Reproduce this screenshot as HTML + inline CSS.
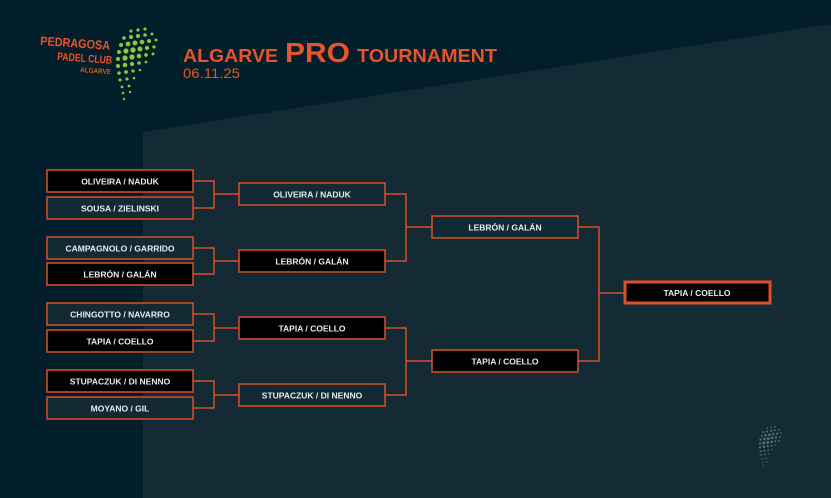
<!DOCTYPE html>
<html><head><meta charset="utf-8"><style>
html,body{margin:0;padding:0;}
body{width:831px;height:498px;overflow:hidden;background:#011e2a;font-family:"Liberation Sans",sans-serif;}
svg{display:block}
</style></head><body>
<svg width="831" height="498" viewBox="0 0 831 498" xmlns="http://www.w3.org/2000/svg">
<rect width="831" height="498" fill="#011e2a"/>
<polygon points="143,132 831,24 831,498 143,498" fill="#142b36"/>

<!-- logo text -->
<g font-family="Liberation Sans, sans-serif" font-weight="bold" fill="#e4552b">
<text x="40" y="45" font-size="12.5" textLength="70" lengthAdjust="spacingAndGlyphs" transform="rotate(4 40 45)">PEDRAGOSA</text>
<text x="57" y="60" font-size="11" textLength="55" lengthAdjust="spacingAndGlyphs" transform="rotate(4 57 60)">PADEL CLUB</text>
<text x="80" y="72" font-size="7" textLength="31" lengthAdjust="spacingAndGlyphs" transform="rotate(4 80 72)">ALGARVE</text>
</g>
<g fill="#8cc63f">
<circle cx="131" cy="31" r="1.6"/><circle cx="138" cy="30" r="1.6"/><circle cx="145" cy="29" r="1.6"/>
<circle cx="124" cy="38" r="1.8"/><circle cx="131" cy="37" r="2"/><circle cx="138" cy="36" r="2"/><circle cx="145" cy="35" r="1.8"/><circle cx="152" cy="34" r="1.5"/>
<circle cx="121" cy="45" r="2"/><circle cx="128" cy="44" r="2.4"/><circle cx="135" cy="43" r="2.5"/><circle cx="142" cy="42" r="2.3"/><circle cx="149" cy="41" r="2"/><circle cx="156" cy="40" r="1.5"/>
<circle cx="119" cy="52" r="2"/><circle cx="126" cy="51" r="2.6"/><circle cx="133" cy="50" r="2.7"/><circle cx="140" cy="49" r="2.5"/><circle cx="147" cy="48" r="2.1"/><circle cx="154" cy="47" r="1.6"/>
<circle cx="118" cy="59" r="2"/><circle cx="125" cy="58" r="2.6"/><circle cx="132" cy="57" r="2.6"/><circle cx="139" cy="56" r="2.3"/><circle cx="146" cy="55" r="1.9"/><circle cx="153" cy="54" r="1.5"/>
<circle cx="118" cy="66" r="2"/><circle cx="125" cy="65" r="2.3"/><circle cx="132" cy="64" r="2.1"/><circle cx="139" cy="63" r="1.8"/><circle cx="146" cy="62" r="1.4"/>
<circle cx="119" cy="73" r="1.8"/><circle cx="126" cy="72" r="1.9"/><circle cx="133" cy="71" r="1.6"/><circle cx="140" cy="70" r="1.3"/>
<circle cx="120" cy="80" r="1.6"/><circle cx="127" cy="79" r="1.6"/><circle cx="134" cy="78" r="1.3"/>
<circle cx="122" cy="87" r="1.4"/><circle cx="129" cy="86" r="1.4"/>
<circle cx="123" cy="93" r="1.3"/><circle cx="130" cy="92" r="1.2"/>
<circle cx="124" cy="99" r="1.2"/>
</g>
<!-- watermark -->
<g fill="#6f8690" opacity="0.7" transform="translate(760 427) scale(0.55) translate(-118 -29)">
<circle cx="131" cy="31" r="1.6"/><circle cx="138" cy="30" r="1.6"/><circle cx="145" cy="29" r="1.6"/>
<circle cx="124" cy="38" r="1.8"/><circle cx="131" cy="37" r="2"/><circle cx="138" cy="36" r="2"/><circle cx="145" cy="35" r="1.8"/><circle cx="152" cy="34" r="1.5"/>
<circle cx="121" cy="45" r="2"/><circle cx="128" cy="44" r="2.4"/><circle cx="135" cy="43" r="2.5"/><circle cx="142" cy="42" r="2.3"/><circle cx="149" cy="41" r="2"/><circle cx="156" cy="40" r="1.5"/>
<circle cx="119" cy="52" r="2"/><circle cx="126" cy="51" r="2.6"/><circle cx="133" cy="50" r="2.7"/><circle cx="140" cy="49" r="2.5"/><circle cx="147" cy="48" r="2.1"/><circle cx="154" cy="47" r="1.6"/>
<circle cx="118" cy="59" r="2"/><circle cx="125" cy="58" r="2.6"/><circle cx="132" cy="57" r="2.6"/><circle cx="139" cy="56" r="2.3"/><circle cx="146" cy="55" r="1.9"/><circle cx="153" cy="54" r="1.5"/>
<circle cx="118" cy="66" r="2"/><circle cx="125" cy="65" r="2.3"/><circle cx="132" cy="64" r="2.1"/><circle cx="139" cy="63" r="1.8"/><circle cx="146" cy="62" r="1.4"/>
<circle cx="119" cy="73" r="1.8"/><circle cx="126" cy="72" r="1.9"/><circle cx="133" cy="71" r="1.6"/><circle cx="140" cy="70" r="1.3"/>
<circle cx="120" cy="80" r="1.6"/><circle cx="127" cy="79" r="1.6"/><circle cx="134" cy="78" r="1.3"/>
<circle cx="122" cy="87" r="1.4"/><circle cx="129" cy="86" r="1.4"/>
<circle cx="123" cy="93" r="1.3"/><circle cx="130" cy="92" r="1.2"/>
<circle cx="124" cy="99" r="1.2"/>
</g>

<!-- title -->
<g font-family="Liberation Sans, sans-serif" font-weight="bold" fill="#e4552b">
<text x="183" y="62" font-size="18" textLength="95" lengthAdjust="spacingAndGlyphs">ALGARVE</text>
<text x="285" y="62" font-size="28" textLength="65" lengthAdjust="spacingAndGlyphs">PRO</text>
<text x="357" y="62" font-size="18" textLength="140" lengthAdjust="spacingAndGlyphs">TOURNAMENT</text>
</g>
<text x="183" y="78" font-family="Liberation Sans, sans-serif" fill="#e4552b" font-size="14" textLength="57" lengthAdjust="spacingAndGlyphs">06.11.25</text>

<!-- connectors -->
<g stroke="#d9502a" stroke-width="1.5" fill="none">
<polyline points="193,181 214,181 214,208 193,208"/><line x1="214" y1="194" x2="239" y2="194"/>
<polyline points="193,248 214,248 214,274 193,274"/><line x1="214" y1="261" x2="239" y2="261"/>
<polyline points="193,314 214,314 214,341 193,341"/><line x1="214" y1="328" x2="239" y2="328"/>
<polyline points="193,381 214,381 214,408 193,408"/><line x1="214" y1="395" x2="239" y2="395"/>
<polyline points="385,194 406,194 406,261 385,261"/><line x1="406" y1="227" x2="432" y2="227"/>
<polyline points="385,328 406,328 406,395 385,395"/><line x1="406" y1="361" x2="432" y2="361"/>
<polyline points="578,227 599,227 599,361 578,361"/><line x1="599" y1="293" x2="624" y2="293"/>
</g>

<!-- boxes -->
<g stroke="#d9502a" stroke-width="1.5">
<rect x="47" y="170" width="146" height="22" fill="#000"/>
<rect x="47" y="197" width="146" height="22" fill="#132a35"/>
<rect x="47" y="237" width="146" height="22" fill="#132a35"/>
<rect x="47" y="263" width="146" height="22" fill="#000"/>
<rect x="47" y="303" width="146" height="22" fill="#132a35"/>
<rect x="47" y="330" width="146" height="22" fill="#000"/>
<rect x="47" y="370" width="146" height="22" fill="#000"/>
<rect x="47" y="397" width="146" height="22" fill="#132a35"/>
<rect x="239" y="183" width="146" height="22" fill="#132a35"/>
<rect x="239" y="250" width="146" height="22" fill="#000"/>
<rect x="239" y="317" width="146" height="22" fill="#000"/>
<rect x="239" y="384" width="146" height="22" fill="#132a35"/>
<rect x="432" y="216" width="146" height="22" fill="#132a35"/>
<rect x="432" y="350" width="146" height="22" fill="#000"/>
<rect x="625" y="282" width="145" height="21" fill="#000" stroke-width="3"/>
</g>
<g font-family="Liberation Sans, sans-serif" font-weight="bold" font-size="8.5" fill="#e6ecef" text-anchor="middle">
<text x="120" y="184.5">OLIVEIRA / NADUK</text>
<text x="120" y="211.5">SOUSA / ZIELINSKI</text>
<text x="120" y="251.5">CAMPAGNOLO / GARRIDO</text>
<text x="120" y="277.5">LEBRÓN / GALÁN</text>
<text x="120" y="317.5">CHINGOTTO / NAVARRO</text>
<text x="120" y="344.5">TAPIA / COELLO</text>
<text x="120" y="384.5">STUPACZUK / DI NENNO</text>
<text x="120" y="411.5">MOYANO / GIL</text>
<text x="312" y="197.5">OLIVEIRA / NADUK</text>
<text x="312" y="264.5">LEBRÓN / GALÁN</text>
<text x="312" y="331.5">TAPIA / COELLO</text>
<text x="312" y="398.5">STUPACZUK / DI NENNO</text>
<text x="505" y="230.5">LEBRÓN / GALÁN</text>
<text x="505" y="364.5">TAPIA / COELLO</text>
<text x="697" y="296">TAPIA / COELLO</text>
</g>
</svg>
</body></html>
